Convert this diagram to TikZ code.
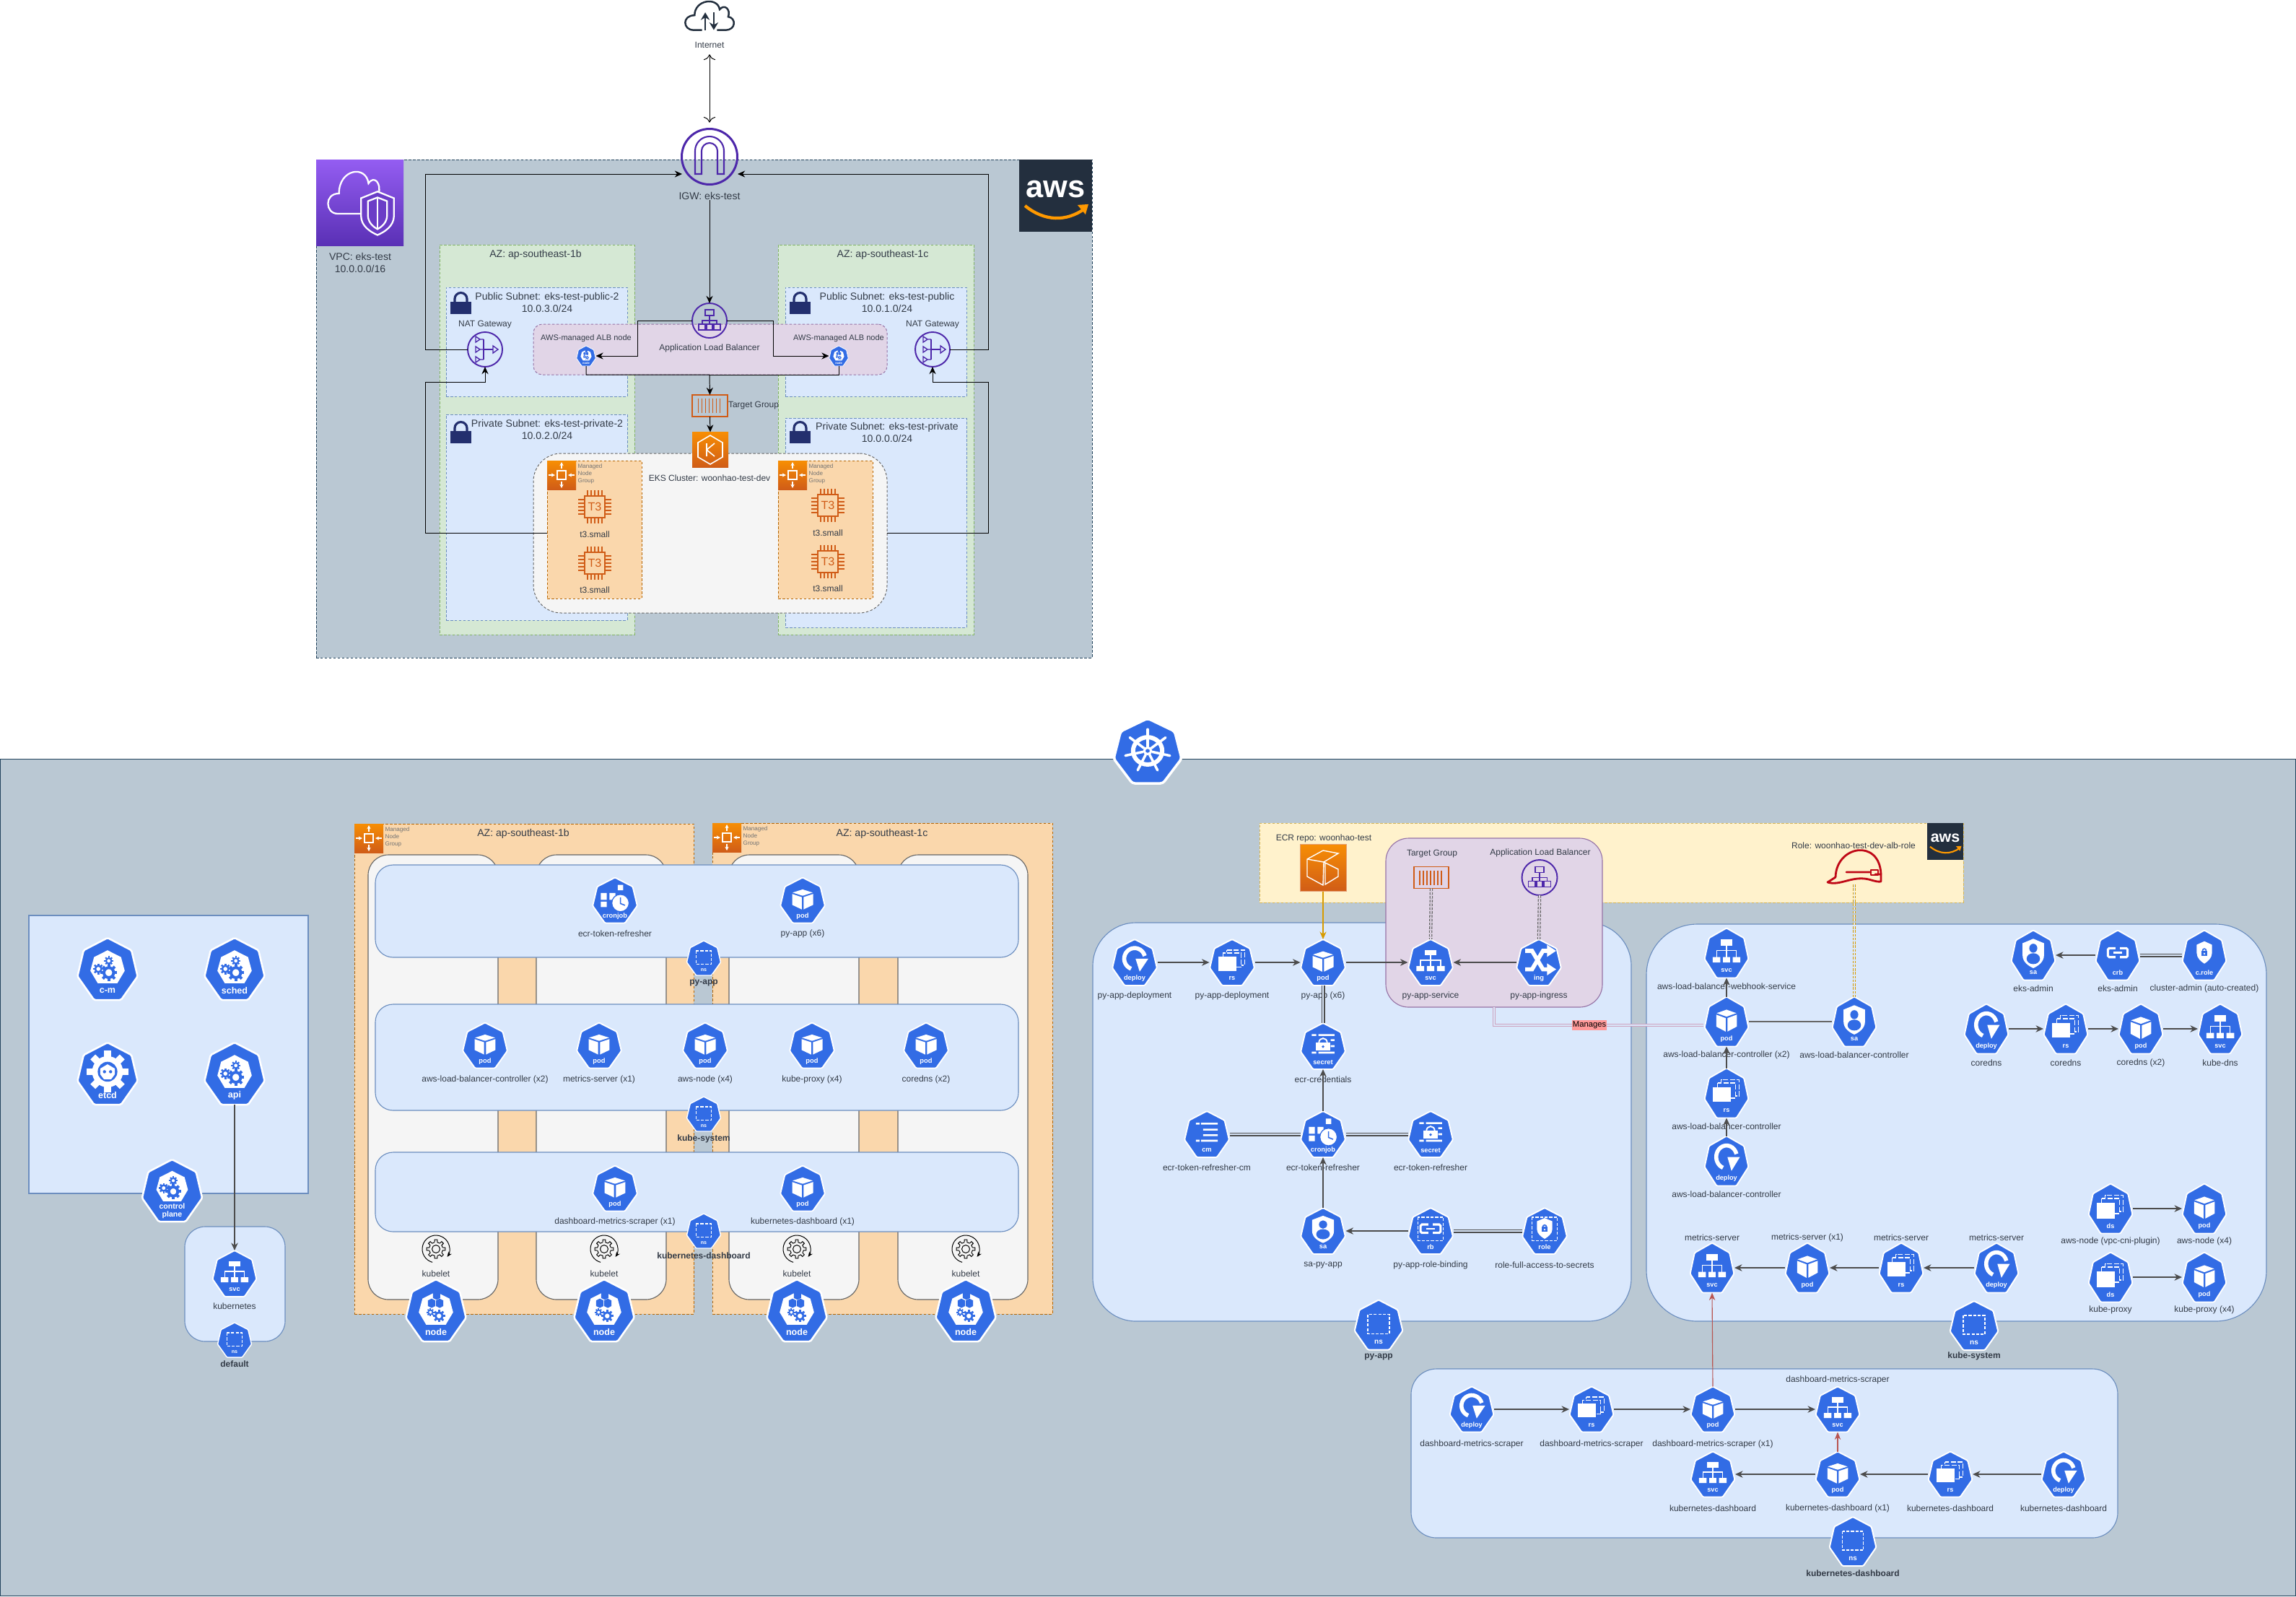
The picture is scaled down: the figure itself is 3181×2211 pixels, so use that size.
\documentclass[tikz,border=0pt]{standalone}
\usepackage{fontspec}
\setmainfont{Liberation Sans}
\usetikzlibrary{arrows.meta}
\definecolor{kblue}{HTML}{326CE5}
\definecolor{vpcfill}{HTML}{BAC8D3}
\definecolor{vpcline}{HTML}{23445D}
\definecolor{azfill}{HTML}{D5E8D4}
\definecolor{azline}{HTML}{82B366}
\definecolor{subfill}{HTML}{DAE8FC}
\definecolor{subline}{HTML}{6C8EBF}
\definecolor{albfill}{HTML}{E1D5E7}
\definecolor{albline}{HTML}{9673A6}
\definecolor{clfill}{HTML}{F5F5F5}
\definecolor{clline}{HTML}{666666}
\definecolor{mngfill}{HTML}{FAD7AC}
\definecolor{mngline}{HTML}{B46504}
\definecolor{ylwfill}{HTML}{FFF2CC}
\definecolor{ylwline}{HTML}{D6B656}
\definecolor{awspurple}{HTML}{4D27AA}
\definecolor{awsorange}{HTML}{D05C17}
\definecolor{awstop}{HTML}{F78E04}
\definecolor{awsdark}{HTML}{232F3E}
\definecolor{awssmile}{HTML}{FF9900}
\definecolor{locknavy}{HTML}{232F6E}
\definecolor{redhat}{HTML}{BF0816}
\definecolor{redline}{HTML}{B85450}
\definecolor{ecrline}{HTML}{D79B00}
\definecolor{pinkline}{HTML}{CDA2BE}
\definecolor{pinkfill}{HTML}{FF9999}
\definecolor{txtdark}{HTML}{333B47}
\definecolor{vpctop}{HTML}{945DF2}
\definecolor{vpcbot}{HTML}{5A30B5}
\def\hepta{(0,50) -- (39,30) -- (49,-12) -- (22,-50) -- (-22,-50) -- (-49,-12) -- (-39,30) -- cycle}
\def\innerhept{(0,30) -- (22,19) -- (28,-3) -- (16,-23) -- (-16,-23) -- (-28,-3) -- (-22,19) -- cycle}
\def\shieldpath{(0,33) -- (24,24) -- (24,0) .. controls (24,-14) and (10,-22) .. (0,-26) .. controls (-10,-22) and (-24,-14) .. (-24,0) -- (-24,24) -- cycle}
\newcommand{\region}[6]{\node [#6, minimum width={(#4-#2)*0.01cm}, minimum height={(#5-#3)*0.01cm}] (#1) at ({(#2+#4)/2},{-(#3+#5)/2}) {};}
\newcommand{\tagnode}[1]{\node [tagtext] (\iconname-tag) at (0,-35) {#1};}
\newcommand{\cogwheel}[4]{\draw [#4, line width=0.42*#3*\iu] (#1,#2) circle (0.72*#3);
\foreach \a in {0,45,...,315}{\draw [#4, line width=0.42*#3*\iu] (#1,#2) ++(\a:0.85*#3) -- ++(\a:0.4*#3);}}
\newcommand{\minicube}[2]{\fill [kblue] (#1-6,#2+6) -- (#1,#2+9) -- (#1+6,#2+6) -- (#1+6,#2-3) -- (#1,#2-6) -- (#1-6,#2-3) -- cycle;}
\newcommand{\linkglyph}{\draw [white, line width=5*\iu, rounded corners=3*\iu] (-5,14) -- (-22,14) -- (-22,-4) -- (-5,-4);
\draw [white, line width=5*\iu, rounded corners=3*\iu] (5,14) -- (22,14) -- (22,-4) -- (5,-4);
\draw [white, line width=4*\iu] (-10,5) -- (10,5);}
\newcommand{\lockshield}{\fill [white] (0,28) -- (17,21) -- (17,4) .. controls (17,-6) and (7,-13) .. (0,-17) .. controls (-7,-13) and (-17,-6) .. (-17,4) -- (-17,21) -- cycle;
\fill [kblue] (-7,-2) rectangle (7,9);
\draw [kblue, line width=2.5*\iu] (-4,9) arc (180:0:4);
\fill [white] (0,3) circle (2);}
\newcommand{\stackglyph}{\draw [white, line width=2.5*\iu, dash pattern=on 2pt off 0.7pt] (-12,27) rectangle (28,-6);
\fill [kblue] (-22,22) rectangle (20,-14);
\draw [white, line width=2.5*\iu, dash pattern=on 2pt off 0.7pt] (-20,20) rectangle (20,-10);
\fill [white] (-30,12) rectangle (9,-18);}
\newcommand{\glyphpod}{\fill [white] (0,24) -- (22,17) -- (0,10) -- (-22,17) -- cycle;
\fill [white] (-23,14) -- (-2,7) -- (-2,-20) -- (-23,-10) -- cycle;
\fill [white] (23,14) -- (2,7) -- (2,-20) -- (23,-10) -- cycle;
\tagnode{pod}}
\newcommand{\glyphsvc}{\fill [white] (-13,27) rectangle (13,15);
\draw [white, line width=2.5*\iu] (0,15) -- (0,-8) (-22,-8) -- (-22,5) -- (22,5) -- (22,-8);
\fill [white] (-31,-8) rectangle (-14,-19) (-8,-8) rectangle (8,-19) (14,-8) rectangle (31,-19);
\tagnode{svc}}
\newcommand{\glyphdeploy}{\draw [white, line width=9*\iu] (0,8) ++(250:23) arc (250:15:23);
\fill [white] (2,8) -- (30,8) -- (11,-20) -- cycle;
\tagnode{deploy}}
\newcommand{\glyphrs}{\stackglyph \tagnode{rs}}
\newcommand{\glyphds}{\stackglyph \fill [white] (-30,-15) rectangle (9,-20); \tagnode{ds}}
\newcommand{\glyphsecret}{\fill [white] (-25,26) rectangle (-15,22) (-10,26) rectangle (25,22) (17,15) rectangle (25,11) (17,2) rectangle (25,-2) (-25,-12) rectangle (-15,-16) (-10,-12) rectangle (25,-16);
\draw [white, line width=3*\iu] (-9,8) arc (180:0:9);
\fill [white] (-16,8) rectangle (16,-10);
\fill [kblue] (0,-1) circle (3);
\tagnode{secret}}
\newcommand{\glyphcronjob}{\fill [white] (6,34) rectangle (18,22) (-31,16) rectangle (-18,1) (-12,16) rectangle (1,1) (-31,-3) rectangle (-18,-15);
\filldraw [fill=white, draw=kblue, line width=2*\iu] (12,-6) circle (19);
\draw [kblue, line width=2.5*\iu] (12,6) -- (12,-7) -- (22,-11);
\tagnode{cronjob}}
\newcommand{\glyphconfigmap}{\fill [white] (-24,25) rectangle (-16,21) (-13,25) rectangle (24,21) (-8,12) rectangle (24,8) (-8,0) rectangle (24,-4) (-24,-12) rectangle (-16,-16) (-13,-12) rectangle (24,-16);
\tagnode{cm}}
\newcommand{\glyphsa}{\fill [white] \shieldpath;
\fill [kblue] (0,14) circle (9);
\fill [kblue] (0,-7) ellipse (15 and 11);
\draw [white, line width=2*\iu] (-17,-2) -- (-12,3);
\tagnode{sa}}
\newcommand{\glyphrb}{\draw [white, line width=2.5*\iu, dash pattern=on 1.2pt off 0.6pt] (-28,30) rectangle (28,-21); \linkglyph \tagnode{rb}}
\newcommand{\glyphcrb}{\linkglyph \tagnode{crb}}
\newcommand{\glyphrole}{\draw [white, line width=2.5*\iu, dash pattern=on 1.2pt off 0.6pt] (-28,30) rectangle (28,-21); \lockshield \tagnode{role}}
\newcommand{\glyphcrole}{\lockshield \tagnode{c.role}}
\newcommand{\glyphing}{\draw [white, line width=9*\iu] (-30,25) -- (-15,25) -- (9,-15) -- (22,-15);
\draw [white, line width=9*\iu] (-30,-15) -- (-15,-15) -- (9,25) -- (22,25);
\fill [white] (18,38) -- (38,25) -- (18,12) -- cycle (18,-2) -- (38,-15) -- (18,-28) -- cycle;
\tagnode{ing}}
\newcommand{\glyphns}{\draw [white, line width=2.5*\iu, dash pattern=on 1.2pt off 0.6pt] (-22,21) rectangle (22,-18); \tagnode{ns}}
\newcommand{\cpbody}{\fill [white] \innerhept;
\cogwheel{2}{-6}{11}{kblue}
\cogwheel{-15}{0}{7}{kblue}
\cogwheel{2}{13}{6}{kblue}}
\newcommand{\glyphcmgr}{\cpbody \tagnode{c-m}}
\newcommand{\glyphsched}{\cpbody \tagnode{sched}}
\newcommand{\glyphapi}{\cpbody \tagnode{api}}
\newcommand{\glyphplane}{\begin{scope}[shift={(0,4)},scale=0.92]\cpbody\end{scope}
\node [tagtext, align=center, font=\bfseries\fontsize{3}{3.1}\selectfont] (\iconname-tag) at (0,-33) {control\\plane};}
\newcommand{\glyphetcd}{\cogwheel{0}{3}{27}{white}
\fill [kblue] (0,3) circle (16);
\fill [white] (0,15) -- (12,8) -- (12,-1) -- (6,-9) -- (-6,-9) -- (-12,-1) -- (-12,8) -- cycle;
\fill [kblue] (-5,3) circle (2.6) (5,3) circle (2.6);
\tagnode{etcd}}
\newcommand{\glyphnode}{\fill [white] \innerhept;
\minicube{1}{23} \minicube{-7}{10} \minicube{6}{10}
\cogwheel{-9}{-3}{5}{kblue}
\cogwheel{5}{-9}{8}{kblue}
\tagnode{node}}
\newcommand{\kubeicon}[8]{\def\iconname{#1}
\pgfmathsetlengthmacro{\iu}{#4*0.01cm/100}
\pgfmathsetmacro{\tagfs}{#4*0.042}
\node [iconbox, minimum width=#4*0.01cm, minimum height=#5*0.01cm] (#1) at (#2,-#3) {};
\begin{scope}[shift={(#2,-#3)},xscale=#4/100,yscale=#5/100]
\filldraw [fill=kblue, draw=white, line width=3*\iu, rounded corners=2*\iu] \hepta;
\csname glyph#6\endcsname
\end{scope}
\node [txtS] (#1-lbl) at (#2,-#8) {#7};}
\newcommand{\kubelet}[3]{\node [iconbox, minimum width=38*0.01cm, minimum height=39*0.01cm] (#1) at (#2,-#3) {};
\begin{scope}[shift={(#2,-#3)},line width=0.28pt,draw=black]
\draw [-{Stealth[length=2pt,width=1.6pt]}] (255:19) arc (255:-35:19);
\foreach \a in {0,45,...,315}{\draw (\a-32:9.5) arc (\a-32:\a-11:9.5) -- (\a-8:13) -- (\a+8:13) -- (\a+11:9.5);}
\draw (0,0) circle (5.5);
\end{scope}
\node [txtS] (#1-lbl) at (#2,-#3-34) {kubelet};}
\newcommand{\mngicon}[5]{\node [gradbox, minimum width=#4*0.01cm, minimum height=#5*0.01cm] (#1) at (#2+#4/2,-#3-#5/2) {};
\begin{scope}[shift={(#2+#4/2,-#3-#5/2)},scale=#4/40,white,line width=0.3pt,-{Stealth[length=1.5pt,width=1.5pt]}]
\draw [-] (-6,-6) rectangle (6,6);
\draw (0,9) -- (0,18);
\draw (0,-9) -- (0,-18);
\draw (-18,0) -- (-9,0);
\draw (18,0) -- (9,0);
\end{scope}
\node [txtT, align=left, anchor=north west] (#1-txt) at (#2+#4+2,-#3-4) {Managed\\Node\\Group};}
\newcommand{\chipicon}[3]{\node [iconbox, draw=awsorange, line width=0.5pt, minimum width=28*0.01cm, minimum height=30*0.01cm, text=awsorange, font=\fontsize{4.6}{5}\selectfont] (#1) at (#2,-#3) {T3};
\begin{scope}[shift={(#2,-#3)},awsorange,line width=0.4pt]
\foreach \p in {-10,-5,0,5,10}{\draw (\p,15) -- (\p,23) (\p,-15) -- (\p,-23) (-14,\p) -- (-23,\p) (14,\p) -- (23,\p);}
\end{scope}}
\newcommand{\albicon}[4]{\node [circle, iconbox, draw=awspurple, line width=0.55pt, minimum width=2*#4*0.01cm] (#1) at (#2,-#3) {};
\begin{scope}[shift={(#2,-#3)},scale=#4/24,awspurple,line width=0.4pt]
\draw (-6,15) rectangle (6,7);
\draw (0,7) -- (0,0) (-10,-5) -- (-10,0) -- (10,0) -- (10,-5) (0,0) -- (0,-5);
\draw (-15,-5) rectangle (-6,-13);
\draw (-4,-5) rectangle (4,-13);
\draw (6,-5) rectangle (15,-13);
\end{scope}}
\newcommand{\naticon}[3]{\node [circle, iconbox, draw=awspurple, line width=0.55pt, minimum width=48*0.01cm] (#1) at (#2,-#3) {};
\begin{scope}[shift={(#2,-#3)},awspurple,line width=0.4pt]
\foreach \p in {-14,0,14}{\draw (-13,\p+4) -- (-7,\p) -- (-13,\p-4) -- cycle (-7,\p) -- (-2,\p);}
\draw (-2,14) -- (-2,-14) (-2,0) -- (11,0);
\draw (11,5) -- (18,0) -- (11,-5) -- cycle;
\end{scope}}
\newcommand{\tgicon}[5]{\node [iconbox, draw=awsorange, line width=0.55pt, minimum width=#4*0.01cm, minimum height=#5*0.01cm] (#1) at (#2,-#3) {};
\begin{scope}[shift={(#2,-#3)},awsorange,line width=0.32pt]
\foreach \p in {-16,-11,...,16}{\draw (\p,#5/2-5) -- (\p,-#5/2+5);}
\end{scope}}
\newcommand{\lockicon}[3]{\node [iconbox, fill=locknavy, minimum width=29*0.01cm, minimum height=17*0.01cm] (#1) at (#2+14.5,-#3-23) {};
\draw [locknavy, line width=0.9pt] (#2+6,-#3-15) -- (#2+6,-#3-11) arc (180:0:8.5) -- (#2+23,-#3-15);}
\newcommand{\awslogo}[5]{\node [iconbox, fill=awsdark, minimum width=#4*0.01cm, minimum height=#5*0.01cm] (#1) at (#2+#4/2,-#3-#5/2) {};
\pgfmathsetmacro{\awsfs}{#4*0.122}
\node [text=white, font=\bfseries\fontsize{\awsfs}{\awsfs}\selectfont] (#1-txt) at (#2+#4/2,-#3-0.41*#5) {aws};
\begin{scope}[shift={(#2+#4/2,-#3-0.7*#5)},scale=#4/100,awssmile]
\draw [line width=#4*0.012pt] (-42,6) .. controls (-15,-16) and (15,-16) .. (40,2);
\fill (30,7) -- (45,8) -- (41,-6) -- cycle;
\end{scope}}
\begin{document}
\begin{tikzpicture}[x=0.01cm,y=0.01cm]
\tikzstyle{every node}+=[inner sep=0pt]
\tikzstyle{iconbox}=[outer sep=0pt, inner sep=0pt]
\tikzstyle{gradbox}=[outer sep=0pt, top color=awstop, bottom color=awsorange]
\tikzstyle{tagtext}=[text=white, font=\bfseries\fontsize{\tagfs}{\tagfs}\selectfont]
\tikzstyle{txtS}=[text=txtdark, font=\fontsize{3.41}{4.1}\selectfont, align=center]
\tikzstyle{txtM}=[text=txtdark, font=\fontsize{4}{4.9}\selectfont, align=center]
\tikzstyle{txtT}=[text=black!55, font=\fontsize{2.3}{2.8}\selectfont]
\tikzstyle{dashbox}=[outer sep=0pt, draw, line width=0.28pt, dash pattern=on 1pt off 0.7pt]
\tikzstyle{vpcbox}=[dashbox, fill=vpcfill, draw=vpcline]
\tikzstyle{azbox}=[dashbox, fill=azfill, draw=azline]
\tikzstyle{subbox}=[dashbox, fill=subfill, draw=subline]
\tikzstyle{albbox}=[dashbox, fill=albfill, draw=albline, rounded corners=3.5pt]
\tikzstyle{clbox}=[dashbox, fill=clfill, draw=clline, rounded corners=11pt]
\tikzstyle{mngbox}=[dashbox, fill=mngfill, draw=mngline]
\tikzstyle{ylwbox}=[dashbox, fill=ylwfill, draw=ylwline]
\tikzstyle{nsbox}=[outer sep=0pt, draw=subline, fill=subfill, line width=0.32pt]
\tikzstyle{colbox}=[outer sep=0pt, draw=clline, fill=clfill, line width=0.32pt, rounded corners=8pt]
\tikzstyle{conn}=[black, line width=0.28pt, -{Stealth[length=2.9pt,width=2.6pt]}]
\tikzstyle{kconn}=[draw=black!70, line width=0.42pt, -{Stealth[length=3pt,width=2.7pt]}]
\tikzstyle{kline}=[draw=black!60, line width=0.5pt]
\tikzstyle{klink}=[draw=black!70, line width=0.36pt, double=subfill, double distance=0.7pt]
\tikzstyle{tglink}=[draw=black!60, line width=0.36pt, double=albfill, double distance=0.55pt, dash pattern=on 1pt off 0.5pt]
\tikzstyle{redconn}=[draw=redline, line width=0.32pt, -{Stealth[length=3pt,width=2.4pt]}]
\useasboundingbox (0,0) rectangle (3181,-2211);

\coordinate (igwl) at (945,-241);
\coordinate (igwr) at (1022,-241);
\coordinate (busl) at (589,-241);
\coordinate (busr) at (1369,-241);
\coordinate (busl2) at (589,-529);
\coordinate (busr2) at (1369,-529);
\coordinate (busc) at (983,-519);

\node [iconbox, minimum width=74*0.01cm, minimum height=44*0.01cm] (cloud) at (983,-25) {};
\begin{scope}[shift={(983,-28)},xscale=0.74,yscale=0.68,draw=awsdark,line width=0.7pt]
\draw [awsdark] (-14,-20) -- (-30,-20) .. controls (-50,-20) and (-52,10) .. (-28,10) .. controls (-28,42) and (15,48) .. (19,22) .. controls (28,34) and (40,22) .. (35,7) .. controls (50,5) and (50,-20) .. (30,-20) -- (14,-20);
\draw [awsdark, -{Stealth[length=3pt,width=3.5pt]}] (-8,-20) -- (-8,16);
\draw [awsdark, -{Stealth[length=3pt,width=3.5pt]}] (8,16) -- (8,-20);
\end{scope}
\node [txtS] (internet) at (983,-62) {Internet};

\region{vpc}{438}{221}{1513}{911}{vpcbox}
\region{vpcicon}{438}{221}{559}{340}{outer sep=0pt, top color=vpctop, bottom color=vpcbot}
\begin{scope}[shift={(494,-276)},xscale=0.87,draw=white,line width=0.65pt]
\draw [white] (14,-20) -- (-30,-20) .. controls (-50,-20) and (-52,8) .. (-28,8) .. controls (-28,42) and (15,48) .. (19,22) .. controls (28,34) and (40,22) .. (35,7);
\end{scope}
\begin{scope}[shift={(523,-299)},xscale=0.95,yscale=1.02,line width=0.65pt]
\filldraw [fill=vpcbot!70!vpctop, draw=white] \shieldpath;
\draw [white] (0,25) -- (14,20) -- (14,1) .. controls (14,-9) and (6,-15) .. (0,-18) .. controls (-6,-15) and (-14,-9) .. (-14,1) -- (-14,20) -- cycle;
\draw [white] (0,25) -- (0,-18);
\end{scope}
\node [txtM] (vpclbl) at (499,-364) {VPC: eks-test\\10.0.0.0/16};
\awslogo{awsbig}{1412}{221}{101}{100}

\region{azl}{609}{339}{879}{879}{azbox}
\region{azr}{1078}{339}{1349}{879}{azbox}
\node [txtM] (azllbl) at (742,-353) {AZ: ap-southeast-1b};
\node [txtM] (azrlbl) at (1223,-353) {AZ: ap-southeast-1c};
\region{publ}{618}{398}{869}{549}{subbox}
\region{pubr}{1088}{398}{1339}{549}{subbox}
\region{pril}{618}{574}{869}{859}{subbox}
\region{prir}{1088}{579}{1339}{869}{subbox}
\node [txtM] (publlbl) at (758,-419) {Public Subnet: eks-test-public-2\\10.0.3.0/24};
\node [txtM] (pubrlbl) at (1229,-419) {Public Subnet: eks-test-public\\10.0.1.0/24};
\node [txtM] (prillbl) at (758,-595) {Private Subnet: eks-test-private-2\\10.0.2.0/24};
\node [txtM] (prirlbl) at (1229,-599) {Private Subnet: eks-test-private\\10.0.0.0/24};
\lockicon{lockpl}{624}{403}
\lockicon{lockpr}{1094}{403}
\lockicon{lockql}{624}{582}
\lockicon{lockqr}{1094}{582}

\region{albbg}{739}{449}{1229}{519}{albbox}
\node [txtS] (albtxt) at (983,-482) {Application Load Balancer};
\node [txtS, font=\fontsize{3.13}{3.8}\selectfont] (albnltxt) at (812,-469) {AWS-managed ALB node};
\node [txtS, font=\fontsize{3.13}{3.8}\selectfont] (albnrtxt) at (1162,-469) {AWS-managed ALB node};
\kubeicon{albnl}{812}{493}{27}{28}{node}{}{493}
\kubeicon{albnr}{1162}{493}{27}{28}{node}{}{493}
\region{ekscl}{739}{628}{1229}{849}{clbox}
\region{mngl}{758}{638}{889}{829}{mngbox}
\region{mngr}{1078}{638}{1209}{829}{mngbox}
\mngicon{mngli}{758}{638}{40}{40}
\mngicon{mngri}{1078}{638}{40}{40}
\chipicon{t3a}{824}{702}
\chipicon{t3b}{824}{780}
\chipicon{t3c}{1147}{700}
\chipicon{t3d}{1147}{778}
\node [txtS] (t3alb) at (824,-740) {t3.small};
\node [txtS] (t3blb) at (824,-817) {t3.small};
\node [txtS] (t3clb) at (1147,-738) {t3.small};
\node [txtS] (t3dlb) at (1147,-815) {t3.small};
\node [gradbox, minimum width=50*0.01cm, minimum height=49*0.01cm] (eks) at (984,-623) {};
\begin{scope}[shift={(984,-623)},white,line width=0.45pt]
\draw (0,20) -- (17,10) -- (17,-10) -- (0,-20) -- (-17,-10) -- (-17,10) -- cycle;
\draw (-5,9) -- (-5,-9) (6,9) -- (-5,0) -- (6,-9);
\end{scope}
\node [txtS] (ekslbl) at (983,-662) {EKS Cluster: woonhao-test-dev};
\tgicon{tgup}{983.5}{562}{49}{30}
\node [txtS] (tguplb) at (1044,-562) {Target Group};

\node [circle, iconbox, draw=awspurple, line width=0.85pt, minimum width=77*0.01cm] (igw) at (983,-217) {};
\draw [awspurple, line width=0.6pt] (963,-241) -- (963,-209) arc (180:0:20) -- (1003,-241) -- (994,-241) -- (994,-209) arc (0:180:11) -- (972,-241) -- cycle;
\node [txtM] (igwlbl) at (983,-271) {IGW: eks-test};
\albicon{albup}{983}{444}{24}
\naticon{natl}{672}{484}
\naticon{natr}{1292}{484}
\node [txtS] (natltxt) at (672,-450) {NAT Gateway};
\node [txtS] (natrtxt) at (1292,-450) {NAT Gateway};

\draw [conn, <->, shorten <=2.4pt, shorten >=2.5pt] (internet.south) -- (igw.north);
\draw [conn] (igwlbl.south) -- (albup.north);
\draw [conn] (natl.west) -| (busl) -- (igwl);
\draw [conn] (natr.east) -| (busr) -- (igwr);
\draw [conn] (mngl.west |- ekscl.west) -| (busl2) -| (natl.south);
\draw [conn] (ekscl.east) -| (busr2) -| (natr.south);
\draw [conn] (albup.west) -- ++(-76,0) |- (albnl.east);
\draw [conn] (albup.east) -- ++(64,0) |- (albnr.west);
\draw [conn] (albnl.south) |- (busc) -- (tgup.north);
\draw [black, line width=0.28pt] (albnr.south) |- (busc);
\draw [conn] (tgup.south) -- (eks.north);

\region{k8sbg}{0}{1051}{3180}{2210}{outer sep=0pt, fill=vpcfill, draw=vpcline, line width=0.28pt}
\node [iconbox, minimum width=96*0.01cm, minimum height=90*0.01cm] (k8slogo) at (1590,-1040) {};
\begin{scope}[shift={(1590,-1040)},xscale=0.96,yscale=0.9]
\filldraw [fill=kblue, draw=white, line width=1pt, rounded corners=1pt] \hepta;
\draw [white, line width=1.7pt] (0,0) circle (21);
\foreach \a in {90,141.4,...,450}{\draw [white, line width=1pt, line cap=round] (\a:7) -- (\a:33);}
\filldraw [fill=kblue, draw=white, line width=0.9pt] (0,0) circle (5);
\end{scope}

\region{cpbox}{40}{1268}{427}{1653}{nsbox}
\kubeicon{cmgr}{149}{1342}{85}{86}{cmgr}{}{1342}
\kubeicon{sched}{325}{1342}{85}{86}{sched}{}{1342}
\kubeicon{etcd}{149}{1487}{85}{86}{etcd}{}{1487}
\kubeicon{api}{325}{1487}{85}{86}{api}{}{1487}
\kubeicon{plane}{238.5}{1649}{85}{86}{plane}{}{1649}
\region{defbox}{256}{1699}{395}{1858}{nsbox, rounded corners=8pt}
\kubeicon{ksvc}{325}{1764}{62}{64}{svc}{kubernetes}{1809}
\kubeicon{nsdef}{325}{1856}{48}{48}{ns}{\textbf{default}}{1889}
\draw [kconn] (api.south) -- (ksvc.north);

\region{mngb}{491}{1141}{961}{1820}{mngbox}
\region{mngc}{987}{1140}{1458}{1820}{mngbox}
\mngicon{mngbi}{491}{1141}{40}{40}
\mngicon{mngci}{987}{1140}{40}{40}
\node [txtM] (azblbl) at (725,-1155) {AZ: ap-southeast-1b};
\node [txtM] (azclbl) at (1222,-1155) {AZ: ap-southeast-1c};
\region{col1}{510}{1184}{690}{1800}{colbox}
\region{col2}{743}{1184}{923}{1800}{colbox}
\region{col3}{1010}{1184}{1190}{1800}{colbox}
\region{col4}{1244}{1184}{1424}{1800}{colbox}
\kubelet{kl1}{604}{1730}
\kubelet{kl2}{837}{1730}
\kubelet{kl3}{1104}{1730}
\kubelet{kl4}{1338}{1730}
\region{band1}{520}{1198}{1411}{1326}{nsbox, rounded corners=7pt}
\region{band2}{520}{1391}{1411}{1538}{nsbox, rounded corners=7pt}
\region{band3}{520}{1596}{1411}{1706}{nsbox, rounded corners=7pt}
\kubeicon{bcron}{852}{1247}{63}{63}{cronjob}{ecr-token-refresher}{1293}
\kubeicon{bpya}{1112}{1247}{63}{63}{pod}{py-app (x6)}{1293}
\kubeicon{blbc}{672}{1448}{63}{63}{pod}{aws-load-balancer-controller (x2)}{1495}
\kubeicon{bmet}{830}{1448}{63}{63}{pod}{metrics-server (x1)}{1495}
\kubeicon{bawsn}{977}{1448}{63}{63}{pod}{aws-node (x4)}{1495}
\kubeicon{bprox}{1125}{1448}{63}{63}{pod}{kube-proxy (x4)}{1495}
\kubeicon{bcore}{1283}{1448}{63}{63}{pod}{coredns (x2)}{1495}
\kubeicon{bdms}{852}{1646}{63}{63}{pod}{dashboard-metrics-scraper (x1)}{1692}
\kubeicon{bkd}{1112}{1646}{63}{63}{pod}{kubernetes-dashboard (x1)}{1692}
\kubeicon{bnspy}{975}{1327}{48}{48}{ns}{\textbf{py-app}}{1361}
\kubeicon{bnsks}{975}{1543}{48}{48}{ns}{\textbf{kube-system}}{1577}
\kubeicon{bnskd}{975}{1705}{48}{48}{ns}{\textbf{kubernetes-dashboard}}{1739}
\kubeicon{node1}{604}{1815}{85}{86}{node}{}{1815}
\kubeicon{node2}{837}{1815}{85}{86}{node}{}{1815}
\kubeicon{node3}{1104}{1815}{85}{86}{node}{}{1815}
\kubeicon{node4}{1338}{1815}{85}{86}{node}{}{1815}

\region{ylw}{1745}{1140}{2720}{1250}{ylwbox}
\awslogo{awssm}{2670}{1140}{50}{51}
\region{pabox}{1514}{1278}{2260}{1830}{nsbox, rounded corners=17pt}
\region{ksbox}{2281}{1280}{3140}{1830}{nsbox, rounded corners=20pt}
\region{albk}{1920}{1161}{2220}{1395}{outer sep=0pt, draw=albline, fill=albfill, line width=0.32pt, rounded corners=9pt}

\node [txtS] (ecrlbl) at (1834,-1161) {ECR repo: woonhao-test};
\node [gradbox, draw=awsorange!60!white, line width=0.2pt, minimum width=64*0.01cm, minimum height=65*0.01cm] (ecr) at (1833,-1202) {};
\begin{scope}[shift={(1833,-1202)},white,line width=0.4pt]
\draw (0,24) -- (-22,12) -- (-22,-12) -- (0,-24) -- (1,8) -- (21,20) -- (0,24) (1,8) -- (-22,12);
\draw (1,8) -- (21,-2) -- (21,-12) -- (3,-23) -- (3,7);
\end{scope}
\node [txtS] (tglbl) at (1984,-1183) {Target Group};
\tgicon{tgk}{1983}{1215.5}{48}{30}
\node [txtS] (alblbl) at (2134,-1181) {Application Load Balancer};
\albicon{albk2}{2133}{1215.5}{24.5}
\node [txtS] (rolelbl) at (2568,-1171) {Role: woonhao-test-dev-alb-role};
\node [iconbox, minimum width=76*0.01cm, minimum height=40*0.01cm] (helmet) at (2568,-1205) {};
\begin{scope}[shift={(2568,-1203)},redhat,line width=0.8pt,line join=round,line cap=round]
\draw (-25,-12) .. controls (-24,32) and (36,42) .. (38,-8);
\draw (-36,-19) -- (-25,-12) (-36,-19) .. controls (-20,-24) and (-5,-12) .. (15,-14) .. controls (25,-15) and (30,-19) .. (38,-18) -- (38,-8) -- (30,-8) (-10,-5) -- (24,-5);
\draw (24,-2) rectangle (34,-9);
\end{scope}

\kubeicon{padeploy}{1572}{1333}{63}{64}{deploy}{py-app-deployment}{1379}
\kubeicon{pars}{1707}{1333}{63}{64}{rs}{py-app-deployment}{1379}
\kubeicon{papod}{1833}{1333}{63}{64}{pod}{py-app (x6)}{1379}
\kubeicon{pasvc}{1982}{1333}{63}{64}{svc}{py-app-service}{1379}
\kubeicon{paing}{2132}{1333}{63}{64}{ing}{py-app-ingress}{1379}
\kubeicon{pasec}{1833}{1449}{63}{64}{secret}{ecr-credentials}{1495}
\kubeicon{pacm}{1672}{1571}{63}{64}{configmap}{ecr-token-refresher-cm}{1617}
\kubeicon{pacron}{1833}{1571}{63}{64}{cronjob}{ecr-token-refresher}{1617}
\kubeicon{pasec2}{1982}{1571}{63}{64}{secret}{ecr-token-refresher}{1617}
\kubeicon{pasa}{1833}{1705}{63}{64}{sa}{sa-py-app}{1752}
\kubeicon{parb}{1982}{1705}{63}{64}{rb}{py-app-role-binding}{1752}
\kubeicon{parole}{2140}{1705}{63}{64}{role}{role-full-access-to-secrets}{1752}
\kubeicon{pans}{1910}{1835}{68}{69}{ns}{\textbf{py-app}}{1879}
\draw [draw=ecrline, line width=0.32pt, -{Stealth[length=3pt,width=2.6pt]}] (ecr.south) -- (papod.north);
\draw [tglink] (tgk.south) -- (pasvc.north);
\draw [tglink] (albk2.south) -- (paing.north);
\draw [kconn] (padeploy.east) -- (pars.west);
\draw [kconn] (pars.east) -- (papod.west);
\draw [kconn] (papod.east) -- (pasvc.west);
\draw [kconn] (paing.west) -- (pasvc.east);
\draw [klink] (pasec.north) -- (papod.south);
\draw [kconn] (pacron.north) -- (pasec.south);
\draw [klink] (pacm.east) -- (pacron.west);
\draw [klink] (pacron.east) -- (pasec2.west);
\draw [kconn] (pasa.north) -- (pacron.south);
\draw [kconn] (parb.west) -- (pasa.east);
\draw [klink] (parole.west) -- (parb.east);

\kubeicon{lbcsvc}{2392}{1320}{62}{69}{svc}{aws-load-balancer-webhook-service}{1366}
\kubeicon{lbcpod}{2392}{1415}{62}{69}{pod}{aws-load-balancer-controller (x2)}{1461}
\kubeicon{lbcsa}{2569}{1415}{62}{69}{sa}{aws-load-balancer-controller}{1461}
\kubeicon{lbcrs}{2392}{1514}{62}{69}{rs}{aws-load-balancer-controller}{1560}
\kubeicon{lbcdep}{2392}{1608}{62}{69}{deploy}{aws-load-balancer-controller}{1654}
\kubeicon{adminsa}{2817}{1323}{62}{69}{sa}{eks-admin}{1369}
\kubeicon{admincrb}{2934}{1323}{62}{69}{crb}{eks-admin}{1369}
\kubeicon{adminrole}{3054}{1323}{62}{69}{crole}{cluster-admin (auto-created)}{1369}
\kubeicon{corededp}{2752}{1425}{62}{69}{deploy}{coredns}{1472}
\kubeicon{corers}{2862}{1425}{62}{69}{rs}{coredns}{1472}
\kubeicon{corepod}{2966}{1425}{62}{69}{pod}{coredns (x2)}{1472}
\kubeicon{coresvc}{3076}{1425}{62}{69}{svc}{kube-dns}{1472}
\kubeicon{awsnds}{2924}{1674}{62}{69}{ds}{aws-node (vpc-cni-plugin)}{1719}
\kubeicon{awsnpod}{3054}{1674}{62}{69}{pod}{aws-node (x4)}{1719}
\kubeicon{proxds}{2924}{1769}{62}{69}{ds}{kube-proxy}{1814}
\kubeicon{proxpod}{3054}{1769}{62}{69}{pod}{kube-proxy (x4)}{1814}
\kubeicon{msvc}{2372}{1756}{62}{69}{svc}{metrics-server}{1714}
\kubeicon{mpod}{2504}{1756}{62}{69}{pod}{metrics-server (x1)}{1714}
\kubeicon{mrs}{2634}{1756}{62}{69}{rs}{metrics-server}{1714}
\kubeicon{mdep}{2766}{1756}{62}{69}{deploy}{metrics-server}{1714}
\kubeicon{ksns}{2735}{1836}{68}{68}{ns}{\textbf{kube-system}}{1878}
\coordinate (mgstart) at (2070,-1395);
\coordinate (mgend) at (2360,-1420);
\draw [draw=pinkline, line width=0.28pt, double=subfill, double distance=0.7pt] (mgstart) |- (mgend);
\node [fill=pinkfill, text=black, font=\fontsize{3.2}{4}\selectfont, inner xsep=0.3pt, inner ysep=0.6pt] (manages) at (2202,-1420) {Manages};
\draw [draw=ecrline, line width=0.24pt, double=subfill, double distance=0.55pt, dash pattern=on 1pt off 0.5pt] (helmet.south -| lbcsa.north) -- (lbcsa.north);
\draw [kconn] (lbcpod.north) -- (lbcsvc.south);
\draw [kline] (lbcpod.east) -- (lbcsa.west);
\draw [kconn] (lbcrs.north) -- (lbcpod.south);
\draw [kconn] (lbcdep.north) -- (lbcrs.south);
\draw [kconn] (admincrb.west) -- (adminsa.east);
\draw [klink] (adminrole.west) -- (admincrb.east);
\draw [kconn] (corededp.east) -- (corers.west);
\draw [kconn] (corers.east) -- (corepod.west);
\draw [kconn] (corepod.east) -- (coresvc.west);
\draw [kconn] (awsnds.east) -- (awsnpod.west);
\draw [kconn] (proxds.east) -- (proxpod.west);
\draw [kconn] (mdep.west) -- (mrs.east);
\draw [kconn] (mrs.west) -- (mpod.east);
\draw [kconn] (mpod.west) -- (msvc.east);

\region{dbox}{1955}{1896}{2934}{2130}{nsbox, rounded corners=10pt}
\kubeicon{dmsdep}{2039}{1952}{62}{63}{deploy}{dashboard-metrics-scraper}{2000}
\kubeicon{dmsrs}{2205}{1952}{62}{63}{rs}{dashboard-metrics-scraper}{2000}
\kubeicon{dmspod}{2373}{1952}{62}{63}{pod}{dashboard-metrics-scraper (x1)}{2000}
\kubeicon{dmssvc}{2546}{1952}{62}{63}{svc}{dashboard-metrics-scraper}{1911}
\kubeicon{kdsvc}{2373}{2042}{62}{63}{svc}{kubernetes-dashboard}{2089}
\kubeicon{kdpod}{2546}{2042}{62}{63}{pod}{kubernetes-dashboard (x1)}{2089}
\kubeicon{kdrs}{2702}{2042}{62}{63}{rs}{kubernetes-dashboard}{2089}
\kubeicon{kddep}{2859}{2042}{62}{63}{deploy}{kubernetes-dashboard}{2089}
\kubeicon{kdns}{2567}{2135}{66}{68}{ns}{\textbf{kubernetes-dashboard}}{2179}
\draw [kconn] (dmsdep.east) -- (dmsrs.west);
\draw [kconn] (dmsrs.east) -- (dmspod.west);
\draw [kconn] (dmspod.east) -- (dmssvc.west);
\draw [kconn] (kddep.west) -- (kdrs.east);
\draw [kconn] (kdrs.west) -- (kdpod.east);
\draw [kconn] (kdpod.west) -- (kdsvc.east);
\draw [redconn] (kdpod.north) -- (dmssvc.south);
\draw [redconn] (dmspod.north) -- (msvc.south);
\end{tikzpicture}
\end{document}
